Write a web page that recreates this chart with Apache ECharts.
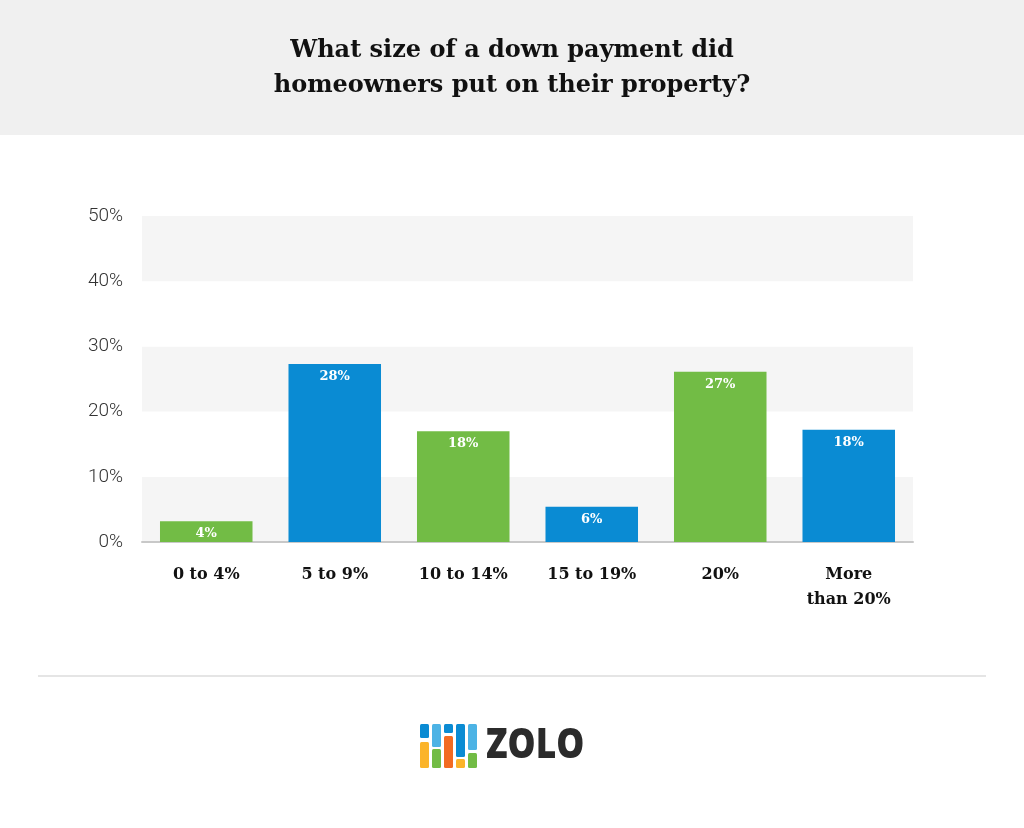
<!DOCTYPE html>
<html>
<head>
<meta charset="utf-8">
<script src="https://cdn.jsdelivr.net/npm/echarts@6/dist/echarts.min.js"></script>
<style>
html,body{margin:0;padding:0;background:#fff;}
#chart{width:1024px;height:828px;}
</style>
</head>
<body>
<div id="chart"></div>
<script>
var titleLines = ['What size of a down payment did', 'homeowners put on their property?'];
var categories = ['0 to 4%', '5 to 9%', '10 to 14%', '15 to 19%', '20%', 'More\nthan 20%'];
var barValues = [3.2, 27.3, 17.0, 5.4, 26.1, 17.2];
var valueLabels = ['4%', '28%', '18%', '6%', '27%', '18%'];
var barColors = ['#72bc45', '#0a8bd3', '#72bc45', '#0a8bd3', '#72bc45', '#0a8bd3'];
var yMin = 0, yMax = 50, yStep = 10;

var serif = '"DejaVu Serif", "Liberation Serif", serif';

var chart = echarts.init(document.getElementById('chart'));

// logo blocks: [x, y, w, h, color]
var logoBlocks = [
  [420, 724, 9, 14, '#0a8bd3'], [420, 742, 9, 26, '#fbb42a'],
  [432, 724, 9, 23, '#4cb3e5'], [432, 749, 9, 19, '#72bc45'],
  [444, 724, 9, 9, '#0a8bd3'], [444, 736, 9, 32, '#f26b22'],
  [456, 724, 9, 33, '#0a8bd3'], [456, 759, 9, 9, '#fbb42a'],
  [468, 724, 9, 26, '#4cb3e5'], [468, 753, 9, 15, '#72bc45']
];
var graphics = [
  { type: 'rect', shape: { x: 0, y: 0, width: 1024, height: 135 }, style: { fill: '#f0f0f0' }, z: -10 },
  { type: 'line', shape: { x1: 38, y1: 676, x2: 986, y2: 676 }, style: { stroke: '#dcdcdc', lineWidth: 1.5 } },
  { type: 'text', x: 486, y: 746, scaleX: 0.84, style: { text: 'ZOLO', font: '800 42px "Open Sans", sans-serif', fill: '#2b2b2b', textVerticalAlign: 'middle' } }
];
logoBlocks.forEach(function (b) {
  graphics.push({ type: 'rect', shape: { x: b[0], y: b[1], width: b[2], height: b[3], r: 1.5 }, style: { fill: b[4] } });
});

chart.setOption({
  animation: false,
  backgroundColor: '#ffffff',
  title: {
    text: titleLines.join('\n'),
    left: 'center',
    top: 28,
    textStyle: { fontFamily: serif, fontWeight: 'bold', fontSize: 24, color: '#111', lineHeight: 35 }
  },
  graphic: graphics,
  grid: { left: 142, right: 111, top: 216, bottom: 286 },
  xAxis: {
    type: 'category',
    data: categories,
    axisLine: { lineStyle: { color: '#c8c8c8', width: 2 } },
    axisTick: { show: false },
    axisLabel: { margin: 20, fontFamily: serif, fontWeight: 'bold', fontSize: 16, color: '#111', lineHeight: 25 }
  },
  yAxis: {
    type: 'value',
    min: yMin, max: yMax, interval: yStep,
    axisLine: { show: false },
    axisTick: { show: false },
    splitLine: { show: false },
    splitArea: { show: true, areaStyle: { color: ['#f5f5f5', '#ffffff'] } },
    axisLabel: { formatter: '{value}%', margin: 19, fontFamily: 'Roboto, sans-serif', fontWeight: 300, fontSize: 19, color: '#333' }
  },
  series: [{
    type: 'bar',
    data: barValues.map(function (v, i) { return { value: v, itemStyle: { color: barColors[i] } }; }),
    barWidth: '72%',
    label: {
      show: true,
      position: 'insideTop',
      distance: 6,
      formatter: function (p) { return valueLabels[p.dataIndex]; },
      fontFamily: serif, fontWeight: 'bold', fontSize: 13, color: '#ffffff'
    }
  }]
});
</script>
</body>
</html>
